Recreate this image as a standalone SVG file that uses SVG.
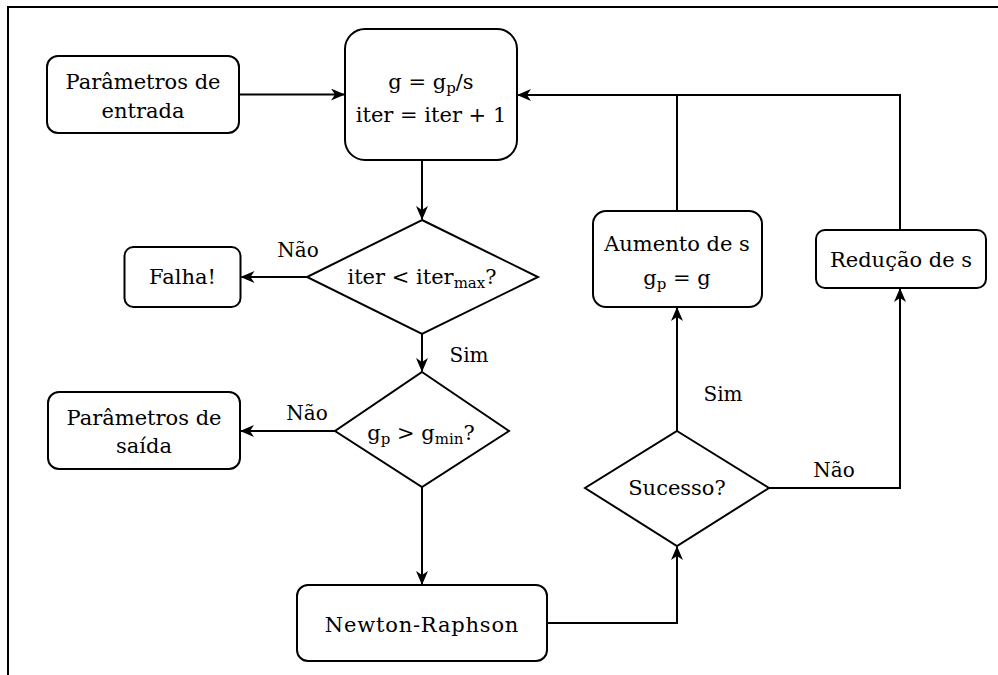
<svg xmlns="http://www.w3.org/2000/svg" width="998" height="675" viewBox="0 0 998 675">
<style>
.n{fill:#fff;stroke:#000;stroke-width:2}
.t{font-family:"DejaVu Serif","Liberation Serif",serif;font-size:21px;fill:#000;text-anchor:middle}
.l{font-family:"DejaVu Serif","Liberation Serif",serif;font-size:20px;fill:#000;text-anchor:middle}
.c{fill:none;stroke:#000;stroke-width:2}
.s{font-size:15px}
</style>
<defs>
<marker id="a" viewBox="0 0 14 12" refX="13" refY="6" markerWidth="14" markerHeight="12" markerUnits="userSpaceOnUse" orient="auto">
<path d="M0,0 L14,6 L0,12 L4,6 Z" fill="#000"/>
</marker>
</defs>
<rect width="998" height="675" fill="#fff"/>
<path d="M8,675 V7 H998" fill="none" stroke="#000" stroke-width="2"/>
<g id="connectors">
<path class="c" d="M239,94.5 H344" marker-end="url(#a)"/>
<path class="c" d="M422,160 V219" marker-end="url(#a)"/>
<path class="c" d="M307,277 H241.5" marker-end="url(#a)"/>
<path class="c" d="M422,334 V371" marker-end="url(#a)"/>
<path class="c" d="M335,431 H241" marker-end="url(#a)"/>
<path class="c" d="M422,487 V584" marker-end="url(#a)"/>
<path class="c" d="M547,623 H677 V547" marker-end="url(#a)"/>
<path class="c" d="M677,431 V308" marker-end="url(#a)"/>
<path class="c" d="M769,488 H900 V289" marker-end="url(#a)"/>
<path class="c" d="M677,211 V95 H518" marker-end="url(#a)"/>
<path class="c" d="M900,230 V95 H677"/>
<text class="l" x="298" y="257">Não</text>
<text class="l" x="469" y="362">Sim</text>
<text class="l" x="307" y="420">Não</text>
<text class="l" x="723" y="401">Sim</text>
<text class="l" x="834" y="477">Não</text>
</g>
<g id="entrada">
<rect class="n" x="47" y="56" width="192" height="77" rx="11"/>
<text class="t" x="143" y="89">Parâmetros de</text>
<text class="t" x="143" y="118">entrada</text>
</g>
<g id="update">
<rect class="n" x="345" y="29" width="172" height="131" rx="20"/>
<text class="t" x="431" y="89">g = g<tspan class="s" dy="4">p</tspan><tspan dy="-4">/s</tspan></text>
<text class="t" x="431" y="122">iter = iter + 1</text>
</g>
<g id="iter-check">
<polygon class="n" points="422,220 538,277 422,334 307,277"/>
<text class="t" x="422" y="284">iter &lt; iter<tspan class="s" dy="4">max</tspan><tspan dy="-4">?</tspan></text>
</g>
<g id="falha">
<rect class="n" x="124.5" y="247" width="116" height="60" rx="9"/>
<text class="t" x="182.5" y="284">Falha!</text>
</g>
<g id="g-check">
<polygon class="n" points="422,372 509,431 422,487 335,431"/>
<text class="t" x="421" y="440">g<tspan class="s" dy="4">p</tspan><tspan dy="-4"> &gt; g</tspan><tspan class="s" dy="4">min</tspan><tspan dy="-4">?</tspan></text>
</g>
<g id="saida">
<rect class="n" x="48" y="392" width="192" height="77" rx="11"/>
<text class="t" x="144" y="425">Parâmetros de</text>
<text class="t" x="144" y="453">saída</text>
</g>
<g id="newton">
<rect class="n" x="297" y="585" width="250" height="76" rx="11"/>
<text class="t" x="422" y="632" font-size="22" letter-spacing="0.8">Newton-Raphson</text>
</g>
<g id="sucesso">
<polygon class="n" points="677,431 769,488 677,546 585,488"/>
<text class="t" x="677" y="495">Sucesso?</text>
</g>
<g id="aumento">
<rect class="n" x="593" y="211" width="169" height="96" rx="13"/>
<text class="t" x="677" y="251">Aumento de s</text>
<text class="t" x="677" y="285">g<tspan class="s" dy="4">p</tspan><tspan dy="-4"> = g</tspan></text>
</g>
<g id="reducao">
<rect class="n" x="816" y="230" width="170" height="58" rx="9"/>
<text class="t" x="901" y="267">Redução de s</text>
</g>
</svg>
